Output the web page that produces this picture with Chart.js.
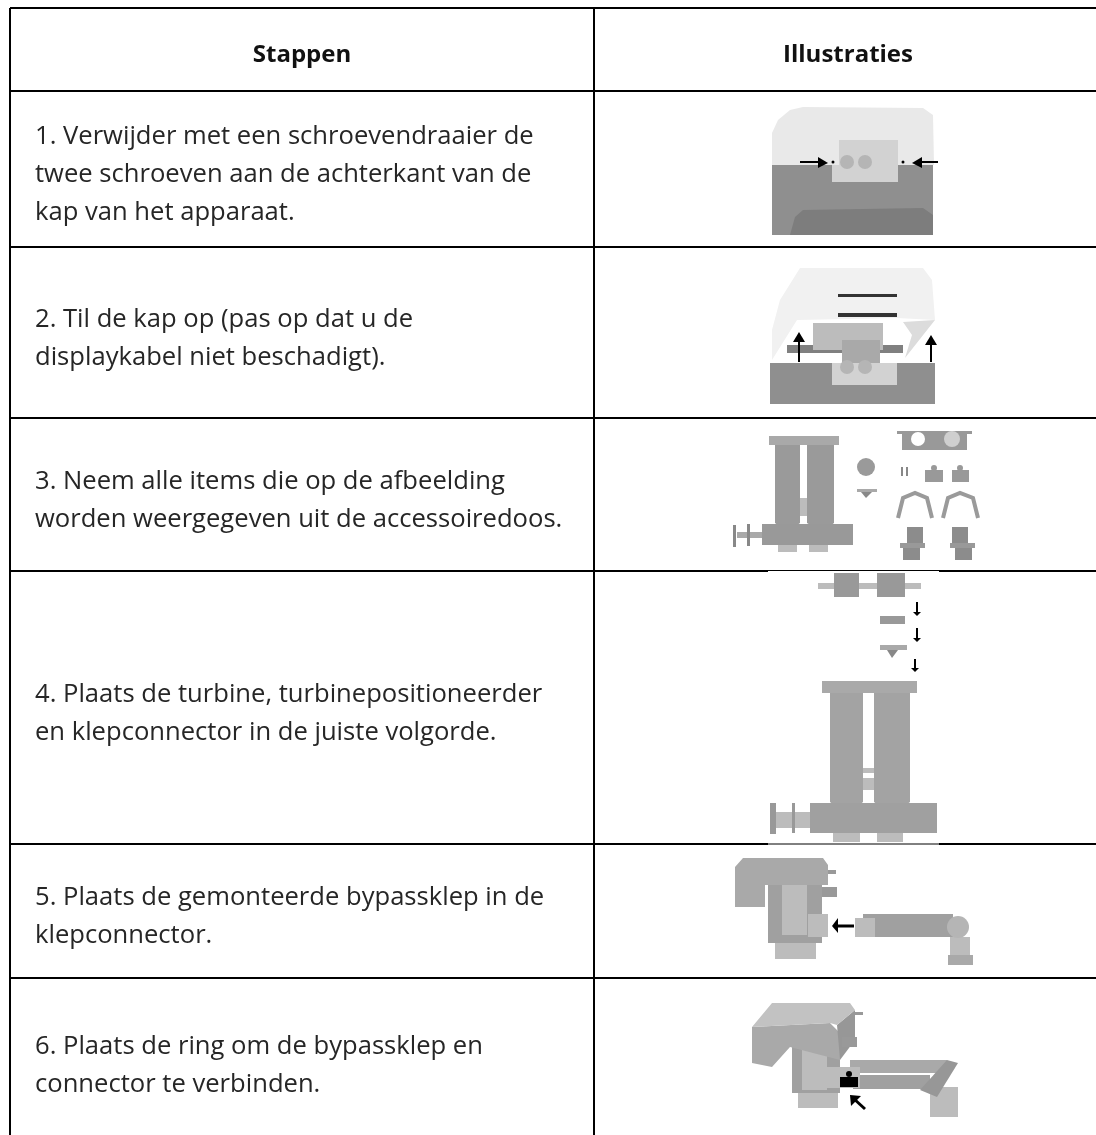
<!DOCTYPE html>
<html>
<head>
<meta charset="utf-8">
<script src="https://cdn.jsdelivr.net/npm/chart.js@4"></script>
<style>
  html, body { margin: 0; background: #fff; }
  #wrap { position: relative; width: 1096px; height: 1135px; overflow: hidden; }
  canvas { position: absolute; left: 0; top: 0; }
  .cell { position: absolute; display: flex; align-items: center; font-family: "Open Sans", sans-serif; font-size: 25.6px; line-height: 38px; color: #262626; white-space: pre-line; }
  .head { font-weight: 700; font-size: 24px; color: #111; justify-content: center; }
</style>
</head>
<body>
<div id="wrap"><canvas id="sheet" width="1096" height="1135"></canvas></div>
<script>
// table rules. the last column and row run off the crop
const colEdges = [10, 594, 1102];
const rowEdges = [8, 91, 247, 418, 571, 844, 978, 1142];
const headers = ['Stappen', 'Illustraties'];
const steps = [
  '1. Verwijder met een schroevendraaier de\ntwee schroeven aan de achterkant van de\nkap van het apparaat.',
  '2. Til de kap op (pas op dat u de\ndisplaykabel niet beschadigt).',
  '3. Neem alle items die op de afbeelding\nworden weergegeven uit de accessoiredoos.',
  '4. Plaats de turbine, turbinepositioneerder\nen klepconnector in de juiste volgorde.',
  '5. Plaats de gemonteerde bypassklep in de\nklepconnector.',
  '6. Plaats de ring om de bypassklep en\nconnector te verbinden.'
];

// helper for the many box shaped parts
const box = (x0, y0, x1, y1) => [[x0, y0], [x1, y0], [x1, y1], [x0, y1], [x0, y0]];

// step 1
const capTop = [[772,165],[772,133],[778,120],[790,110],[803,107],[923,108],[933,115],[934,165]];
const capBase = box(772, 165, 933, 235);
const capDoor = [[790,235],[795,217],[803,210],[923,208],[933,215],[933,235]];
const capNotch = box(832, 165, 898, 182);
const capUnit = box(839, 140, 898, 182);
const capArrowL = [[800,162],[818,162]];
const capArrowHeadL = [[818,157],[828,163],[818,168],[818,157]];
const capArrowR = [[938,162],[922,162]];
const capArrowHeadR = [[922,157],[912,163],[922,168],[922,157]];
const capDots = [[833,162],[903,162]];
const capRings = [[847,162],[865,162]];

// step 2
const liftCover = [[772,360],[772,330],[780,300],[800,268],[923,268],[932,280],[935,320],[897,318],[797,320]];
const liftRim = [[903,322],[935,320],[905,358],[912,335]];
const liftSlotA = box(838, 294, 897, 297);
const liftSlotB = box(838, 313, 897, 317);
const liftBand = box(787, 345, 903, 353);
const liftBox = box(813, 323, 883, 350);
const liftColumn = box(842, 340, 880, 368);
const liftBase = box(770, 363, 935, 404);
const liftNotch = box(832, 363, 897, 385);
const liftRings = [[847,367],[865,367]];
const liftArrowL = [[799,362],[799,342]];
const liftHeadL = [[793,342],[799,332],[805,342],[793,342]];
const liftArrowR = [[931,362],[931,345]];
const liftHeadR = [[925,345],[931,335],[937,345],[925,345]];

// step 3
const kitFlange = box(769, 436, 839, 445);
const kitTubeA = [[775,445],[800,445],[800,523],[787,532],[775,523]];
const kitTubeB = [[807,445],[834,445],[834,523],[822,532],[807,523]];
const kitStrut = box(800, 498, 807, 516);
const kitBase = box(762, 524, 853, 545);
const kitRollerA = box(778, 545, 797, 552);
const kitRollerB = box(809, 545, 828, 552);
const kitDisk = box(733, 525, 736, 547);
const kitShaft = box(737, 532, 762, 538);
const kitCollar = box(747, 524, 750, 546);
const kitWheel = [[866,467]];
const kitVane = box(857, 489, 877, 492);
const kitCone = [[861,492],[872,492],[866,498],[861,492]];
const kitPlateTop = box(897, 431, 972, 434);
const kitPlate = box(902, 434, 967, 450);
const kitHole = [[918,439]];
const kitScreen = [[952,439]];
const kitPinA = box(901, 467, 903, 476);
const kitPinB = box(906, 467, 908, 476);
const kitClipA = box(925, 470, 943, 482);
const kitClipB = box(952, 470, 969, 482);
const kitTabs = [[934,468],[960,468]];
const kitRingA = [[898,518],[903,498],[915,493],[927,498],[932,518]];
const kitRingB = [[943,518],[948,498],[960,493],[973,498],[978,518]];
const kitSleeveA = box(907, 527, 923, 543);
const kitLipA = box(900, 543, 925, 548);
const kitThreadA = box(903, 548, 920, 560);
const kitSleeveB = box(952, 527, 968, 543);
const kitLipB = box(950, 543, 975, 548);
const kitThreadB = box(955, 548, 972, 560);

// step 4
const fitGapTop = [[768,570.5],[939,570.5]];
const fitGapBottom = [[768,844],[939,844]];
const fitSleeveA = box(834, 573, 859, 597);
const fitSleeveB = box(877, 573, 905, 597);
const fitBar = box(818, 583, 921, 589);
const fitDisc = box(880, 616, 905, 624);
const fitVane = box(880, 645, 907, 650);
const fitCone = [[887,650],[898,650],[892,658],[887,650]];
const fitArrowA = [[917,602],[917,614]];
const fitHeadA = [[913,612],[917,616],[921,612],[913,612]];
const fitArrowB = [[917,628],[917,640]];
const fitHeadB = [[913,638],[917,642],[921,638],[913,638]];
const fitArrowC = [[915,659],[915,670]];
const fitHeadC = [[911,668],[915,672],[919,668],[911,668]];
const fitFlange = box(822, 681, 917, 693);
const fitTubeA = [[830,693],[863,693],[863,802],[847,815],[830,802]];
const fitTubeB = [[874,693],[910,693],[910,802],[891,815],[874,802]];
const fitStrutA = box(863, 768, 874, 773);
const fitStrutB = box(863, 778, 874, 790);
const fitBase = box(810, 803, 937, 833);
const fitRollerA = box(833, 833, 860, 842);
const fitRollerB = box(877, 833, 903, 842);
const fitDisk = box(770, 803, 776, 834);
const fitShaft = box(776, 812, 810, 828);
const fitCollar = box(792, 803, 795, 833);

// step 5
const valveHead = [[735,867],[743,858],[823,858],[828,865],[828,885],[765,885],[765,907],[735,907],[735,867]];
const valveBody = box(768, 885, 822, 943);
const valveColumn = box(782, 885, 807, 935);
const valveThread = box(775, 943, 816, 959);
const valveNubA = box(828, 870, 836, 874);
const valveNubB = box(822, 887, 837, 897);
const valvePort = box(808, 914, 828, 937);
const valveArrow = [[854,926],[838,926]];
const valveHead2 = [[838,918],[832,926],[838,933],[838,918]];
const valvePipe = box(863, 914, 953, 937);
const valveEnd = box(855, 918, 875, 937);
const valveLeg = box(950, 937, 970, 955);
const valveFoot = box(948, 955, 973, 965);
const valveElbow = [[958,927]];

// step 6
const ringFront = [[752,1027],[830,1023],[840,1033],[840,1060],[790,1047],[772,1067],[752,1063],[752,1027]];
const ringTop = [[752,1027],[772,1003],[850,1003],[855,1010],[837,1025],[830,1023],[752,1027]];
const ringSide = [[837,1025],[855,1010],[855,1040],[840,1060],[837,1025]];
const ringBody = box(792, 1047, 840, 1093);
const ringColumn = box(802, 1047, 827, 1090);
const ringThread = box(798, 1093, 838, 1108);
const ringNubA = box(855, 1012, 863, 1015);
const ringNubB = box(842, 1037, 857, 1047);
const ringPipeBack = box(850, 1060, 947, 1073);
const ringPipeFront = box(853, 1075, 930, 1089);
const ringPort = box(825, 1067, 860, 1088);
const ringTube = [[920,1090],[947,1060],[958,1063],[937,1097],[920,1090]];
const ringFoot = box(930, 1087, 958, 1117);
const ringClip = box(840, 1077, 858, 1087);
const ringTab = [[849,1074]];
const ringArrow = [[865,1109],[853,1098]];
const ringArrowHead = [[850,1095],[851,1106],[861,1096],[850,1095]];

// filled parts, painted in this order
const grey1 = '#8f8f8f', grey2 = '#a9a9a9', grey3 = '#bcbcbc', grey4 = '#d2d2d2';
const fills = [
  [capBase, grey1], [capDoor, '#7d7d7d'], [capTop, '#e9e9e9'], [capNotch, grey4], [capUnit, grey4],
  [capArrowHeadL, '#000'], [capArrowHeadR, '#000'],
  [liftCover, '#f1f1f1'], [liftRim, '#dcdcdc'], [liftSlotA, '#333'], [liftSlotB, '#333'],
  [liftBand, '#808080'], [liftBox, grey3], [liftBase, grey1], [liftColumn, grey2], [liftNotch, grey4],
  [liftHeadL, '#000'], [liftHeadR, '#000'],
  [kitFlange, grey2], [kitStrut, grey3], [kitTubeA, '#9a9a9a'], [kitTubeB, '#9a9a9a'], [kitRollerA, grey3], [kitRollerB, grey3],
  [kitBase, '#999'], [kitDisk, '#888'], [kitShaft, grey2], [kitCollar, '#888'], [kitVane, grey2], [kitCone, '#888'],
  [kitPlateTop, '#999'], [kitPlate, '#999'], [kitPinA, '#888'], [kitPinB, '#888'], [kitClipA, '#999'], [kitClipB, '#999'],
  [kitSleeveA, '#8c8c8c'], [kitLipA, '#999'], [kitThreadA, '#8c8c8c'], [kitSleeveB, '#8c8c8c'], [kitLipB, '#999'], [kitThreadB, '#8c8c8c'],
  [fitBar, grey3], [fitSleeveA, '#999'], [fitSleeveB, '#999'], [fitDisc, '#999'], [fitVane, grey2], [fitCone, '#888'],
  [fitHeadA, '#000'], [fitHeadB, '#000'], [fitHeadC, '#000'],
  [fitStrutA, grey3], [fitStrutB, grey3], [fitFlange, grey2], [fitTubeA, '#a3a3a3'], [fitTubeB, '#a3a3a3'],
  [fitRollerA, grey3], [fitRollerB, grey3], [fitBase, '#a0a0a0'], [fitDisk, '#999'], [fitShaft, grey3], [fitCollar, '#999'],
  [valveHead, grey2], [valveBody, '#a0a0a0'], [valveColumn, grey3], [valveThread, grey3], [valveNubA, '#999'], [valveNubB, '#999'],
  [valvePort, grey3], [valveHead2, '#000'], [valvePipe, '#a0a0a0'], [valveEnd, grey3], [valveLeg, grey3], [valveFoot, grey2],
  [ringThread, grey3], [ringBody, '#a0a0a0'], [ringColumn, grey3], [ringFront, grey2], [ringSide, '#979797'], [ringTop, '#c2c2c2'],
  [ringNubA, '#999'], [ringNubB, '#999'], [ringPipeBack, grey2], [ringPipeFront, '#a0a0a0'], [ringFoot, grey3], [ringTube, '#979797'],
  [ringPort, grey3], [ringClip, '#000'], [ringArrowHead, '#000']
];
// plain strokes: points, colour, width
const strokes = [
  [capArrowL, '#000', 2], [capArrowR, '#000', 2], [liftArrowL, '#000', 2], [liftArrowR, '#000', 2],
  [kitRingA, '#9a9a9a', 4], [kitRingB, '#9a9a9a', 4],
  [fitGapTop, '#fff', 3], [fitGapBottom, '#fff', 3], [fitGapTop, '#000', 1], [fitGapBottom, '#000', 1],
  [fitArrowA, '#000', 2], [fitArrowB, '#000', 2], [fitArrowC, '#000', 2],
  [valveArrow, '#000', 3], [ringArrow, '#000', 3]
];
// round parts: points, colour, radius
const dots = [
  [capDots, '#000', 1.5], [capRings, '#b5b5b5', 7], [liftRings, '#b5b5b5', 7],
  [kitWheel, '#9a9a9a', 9], [kitHole, '#fff', 7], [kitScreen, '#cfcfcf', 8], [kitTabs, '#999', 3],
  [valveElbow, '#b5b5b5', 11], [ringTab, '#000', 3]
];

function xy(points) {
  return points.map(p => ({ x: p[0], y: p[1] }));
}

const datasets = [];
fills.forEach(f => datasets.push({ data: xy(f[0]), showLine: true, fill: 'shape', backgroundColor: f[1], borderWidth: 0, pointRadius: 0 }));
strokes.forEach(s => datasets.push({ data: xy(s[0]), showLine: true, fill: false, borderColor: s[1], borderWidth: s[2], pointRadius: 0 }));
dots.forEach(d => datasets.push({ data: xy(d[0]), showLine: false, pointRadius: d[2], pointBackgroundColor: d[1], pointBorderWidth: 0 }));
// the chart paints the first dataset on top, the lists above run bottom to top
datasets.reverse();

const ruleAxis = edges => ({
  type: 'linear',
  afterBuildTicks: axis => { axis.ticks = edges.map(v => ({ value: v })); },
  afterFit: axis => { axis.width = axis.isHorizontal() ? axis.width : 0; axis.height = axis.isHorizontal() ? 0 : axis.height; },
  ticks: { display: false },
  border: { display: false },
  grid: { color: '#000', lineWidth: 2, drawTicks: false, tickLength: 0 }
});

new Chart(document.getElementById('sheet').getContext('2d'), {
  type: 'scatter',
  data: { datasets: datasets },
  options: {
    responsive: false,
    animation: false,
    // without this the biggest point radius eats into the chart area
    layout: { autoPadding: false, padding: { left: 10, top: 8, right: 0, bottom: 0 } },
    plugins: { legend: { display: false }, tooltip: { enabled: false }, filler: { drawTime: 'beforeDatasetDraw' } },
    scales: {
      x: Object.assign(ruleAxis(colEdges), { min: 10, max: 1096 }),
      y: Object.assign(ruleAxis(rowEdges), { min: 8, max: 1135, reverse: true })
    }
  }
});

// the text stays real text on top of the canvas
function addCell(text, left, width, top, height, cls) {
  const el = document.createElement('div');
  el.className = 'cell ' + cls;
  el.textContent = text;
  el.style.cssText = `left:${left}px;width:${width}px;top:${top}px;height:${height}px`;
  document.getElementById('wrap').appendChild(el);
}
headers.forEach((h, i) => addCell(h, colEdges[i], colEdges[i + 1] - colEdges[i], rowEdges[0] + 3, rowEdges[1] - rowEdges[0], 'head'));
steps.forEach((s, i) => addCell(s, 35, 555, rowEdges[i + 1] + 4, rowEdges[i + 2] - rowEdges[i + 1], ''));
</script>
</body>
</html>
